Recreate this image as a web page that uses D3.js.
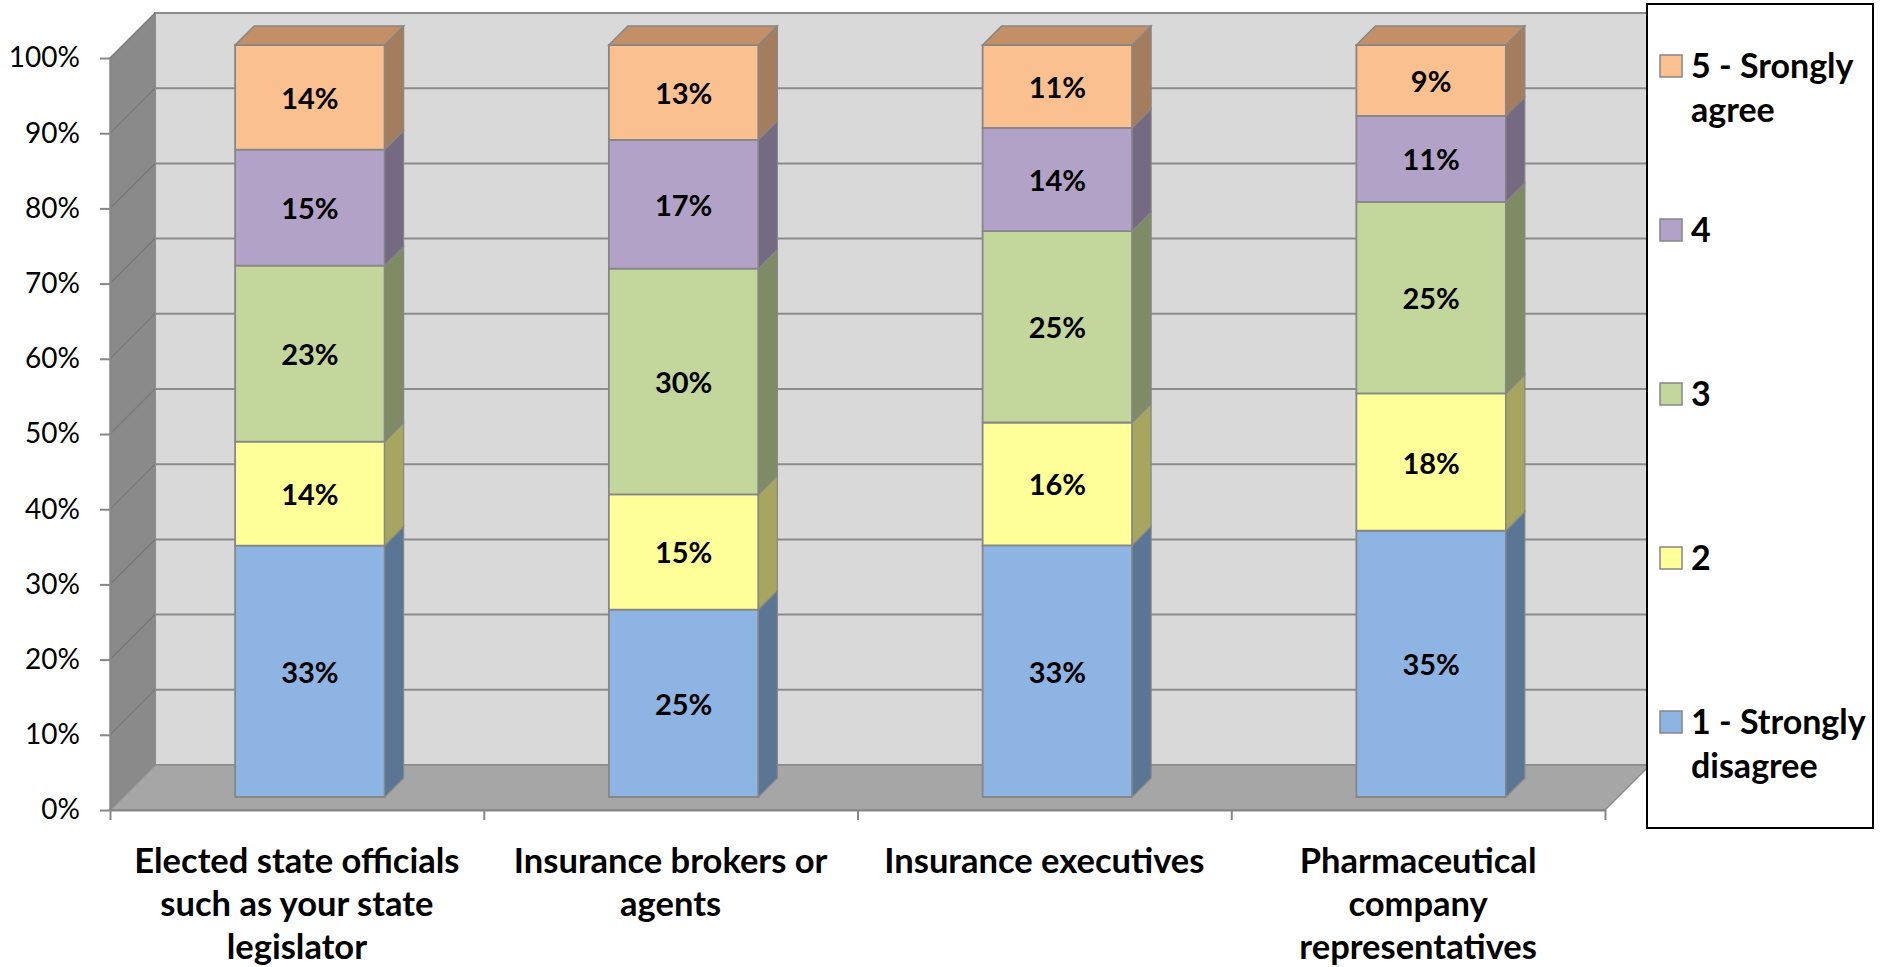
<!DOCTYPE html>
<html><head><meta charset="utf-8">
<script src="https://cdn.jsdelivr.net/npm/d3@7"></script>
<style>
body{margin:0;background:#fff}
svg{display:block}
text{font-family:Lato,'Noto Sans',sans-serif}
</style>
</head><body>
<svg id="chart" width="1881" height="967"></svg>
<script>
// ---- data ----
const categories = [
  "Elected state officials\nsuch as your state\nlegislator",
  "Insurance brokers or\nagents",
  "Insurance executives",
  "Pharmaceutical\ncompany\nrepresentatives"
];
const seriesNames = ["1 - Strongly\ndisagree", "2", "3", "4", "5 - Srongly\nagree"];
const s1 = [33.4, 24.9, 33.4, 35.3];
const s2 = [13.8, 15.3, 16.3, 18.2];
const s3 = [23.4, 30.0, 25.4, 25.4];
const s4 = [15.4, 17.1, 13.7, 11.4];
const s5 = [13.9, 12.6, 11.0, 9.4];
const yTicks = [0, 0.1, 0.2, 0.3, 0.4, 0.5, 0.6, 0.7, 0.8, 0.9, 1];

// ---- styles ----
const frontColors = ["#8EB4E3", "#FFFF99", "#C3D69B", "#B3A2C7", "#FAC090"];
const sideColors  = ["#5B7594", "#A6A661", "#7F8B64", "#746A82", "#A37D5D"];
const topColors   = ["#7090B8", "#CCCC7A", "#9CAB7C", "#8F82A0", "#C38F67"];

const seriesData = [s1, s2, s3, s4, s5];
const table = categories.map((c, i) => {
  const o = {cat: c};
  seriesNames.forEach((s, k) => o[s] = seriesData[k][i]);
  return o;
});
const stack = d3.stack().keys(seriesNames).offset(d3.stackOffsetExpand);
const layers = stack(table);

const svg = d3.select("#chart");
const X0 = 110, X1 = 1605, YTOP = 58, YBOT = 810;
const DEPTH = 45, BD0 = 13, BD1 = 32;

const y = d3.scaleLinear().domain([0, 1]).range([YBOT, YTOP]);
const x = d3.scaleBand().domain(categories).range([X0, X1]).paddingInner(0.6).paddingOuter(0.3);
const P = (px, py, d) => [px + d, py - d];
const poly = pts => "M" + pts.map(p => p.join(",")).join("L") + "Z";

// back wall
svg.append("path")
  .attr("d", poly([P(X0, y(1), DEPTH), P(X1, y(1), DEPTH), P(X1, y(0), DEPTH), P(X0, y(0), DEPTH)]))
  .attr("fill", "#D9D9D9").attr("stroke", "#8C8C8C").attr("stroke-width", 2);
// left wall
svg.append("path")
  .attr("d", poly([[X0, y(1)], P(X0, y(1), DEPTH), P(X0, y(0), DEPTH), [X0, y(0)]]))
  .attr("fill", "#8A8A8A").attr("stroke", "#8A8A8A").attr("stroke-width", 1);
// gridlines
const grid = svg.append("g");
yTicks.forEach(t => {
  grid.append("path")
    .attr("d", "M" + P(X0, y(t), DEPTH).join(",") + "L" + P(X1, y(t), DEPTH).join(","))
    .attr("stroke", "#8C8C8C").attr("stroke-width", 2).attr("fill", "none");
  grid.append("path")
    .attr("d", "M" + [X0, y(t)].join(",") + "L" + P(X0, y(t), DEPTH).join(","))
    .attr("stroke", "#7A7A7A").attr("stroke-width", 1.5).attr("fill", "none");
});
// floor
svg.append("path")
  .attr("d", poly([[X0, y(0)], [X1, y(0)], P(X1, y(0), DEPTH), P(X0, y(0), DEPTH)]))
  .attr("fill", "#A6A6A6").attr("stroke", "#8C8C8C").attr("stroke-width", 1.5);

// bars
const bw = x.bandwidth();
const barsG = svg.append("g");
categories.forEach((c, i) => {
  const g = barsG.append("g");
  layers.forEach((layer, k) => {
    const d = layer[i];
    const xl = x(c), xr = x(c) + bw;
    const yb = y(d[0]), yt = y(d[1]);
    // front
    g.append("path")
      .attr("d", poly([P(xl, yb, BD0), P(xr, yb, BD0), P(xr, yt, BD0), P(xl, yt, BD0)]))
      .attr("fill", frontColors[k]).attr("stroke", "#878787").attr("stroke-width", 1.8);
    // side
    g.append("path")
      .attr("d", poly([P(xr, yb, BD0), P(xr, yb, BD1), P(xr, yt, BD1), P(xr, yt, BD0)]))
      .attr("fill", sideColors[k]).attr("stroke", "#878787").attr("stroke-width", 1.2);
    if (k === layers.length - 1) {
      g.append("path")
        .attr("d", poly([P(xl, yt, BD0), P(xr, yt, BD0), P(xr, yt, BD1), P(xl, yt, BD1)]))
        .attr("fill", topColors[k]).attr("stroke", "#878787").attr("stroke-width", 1.5);
    }
    // label
    const [lx, ly] = P(xl + bw / 2, (yb + yt) / 2, BD0);
    g.append("text")
      .attr("x", lx).attr("y", ly)
      .attr("text-anchor", "middle").attr("dominant-baseline", "central")
      .attr("font-size", 29).attr("font-weight", "bold").attr("fill", "#000")
      .text(d3.format(".0%")(seriesData[k][i] / 100));
  });
});

// y axis
const yAxis = svg.append("g").attr("transform", `translate(${X0},0)`)
  .call(d3.axisLeft(y).tickValues(yTicks).tickFormat(d3.format(".0%")).tickSize(10).tickSizeOuter(0).tickPadding(20));
yAxis.select(".domain").attr("stroke", "#868686").attr("stroke-width", 2);
yAxis.selectAll(".tick line").attr("stroke", "#868686").attr("stroke-width", 2);
yAxis.selectAll(".tick text").attr("font-size", 28).attr("font-family", "Lato").attr("fill", "#000");

// x axis (boundary ticks)
const xb = d3.scaleLinear().domain([0, categories.length]).range([X0, X1]);
const xAxis = svg.append("g").attr("transform", `translate(0,${YBOT})`)
  .call(d3.axisBottom(xb).tickValues(d3.range(categories.length + 1)).tickFormat("").tickSize(10).tickSizeOuter(0));
xAxis.select(".domain").attr("stroke", "#868686").attr("stroke-width", 2);
xAxis.selectAll(".tick line").attr("stroke", "#868686").attr("stroke-width", 2);

// category labels
categories.forEach(c => {
  const t = svg.append("text")
    .attr("text-anchor", "middle").attr("font-size", 34.5).attr("font-weight", "bold").attr("fill", "#000");
  c.split("\n").forEach((ln, j) => {
    t.append("tspan").attr("x", x(c) + bw / 2).attr("y", 873 + j * 43).text(ln);
  });
});

// legend
const lg = svg.append("g");
lg.append("rect").attr("x", 1647).attr("y", 4).attr("width", 226).attr("height", 824)
  .attr("fill", "#fff").attr("stroke", "#000").attr("stroke-width", 2);
seriesNames.slice().reverse().forEach((s, i) => {
  const k = seriesNames.length - 1 - i;
  const cy = 66 + i * 164;
  lg.append("rect").attr("x", 1660).attr("y", cy - 11).attr("width", 22).attr("height", 22)
    .attr("fill", frontColors[k]).attr("stroke", "#878787").attr("stroke-width", 1.5);
  const t = lg.append("text").attr("font-size", 34).attr("font-weight", "bold").attr("fill", "#000");
  s.split("\n").forEach((ln, j) => {
    t.append("tspan").attr("x", 1691).attr("y", cy + 12 + j * 44).text(ln);
  });
});
</script>
</body></html>
